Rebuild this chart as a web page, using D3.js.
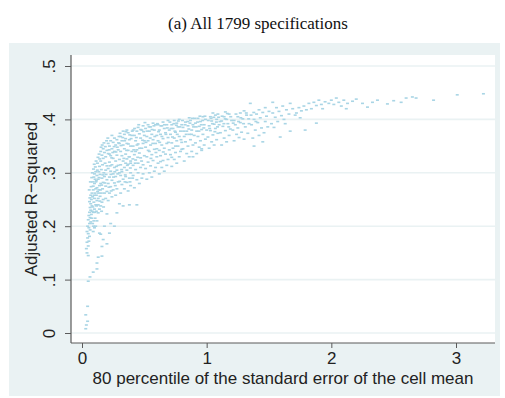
<!DOCTYPE html>
<html>
<head>
<meta charset="utf-8">
<script src="https://cdn.jsdelivr.net/npm/d3@7"></script>
<style>
  body { margin: 0; background: #fff; }
</style>
</head>
<body>
<div id="chart"></div>
<script>
const title = "(a) All 1799 specifications";
const xLabel = "80 percentile of the standard error of the cell mean";
const yLabel = "Adjusted R\u2212squared";
const xTicks = [0, 1, 2, 3];
const yTicks = [0, 0.1, 0.2, 0.3, 0.4, 0.5];

// [x, y] pairs, grouped by region of the cloud
const tailPoints = [[.03,.008],[.035,.015],[.045,.022],[.03,.034],[.045,.05],[.05,.097],[.064,.105],[.09,.114],[.12,.12],[.12,.131],[.16,.144],[.13,.142],[.2,.167],[.16,.162],[.05,.145],[.14,.187],[.17,.175]];
const edgePoints = [[.04,.150],[.035,.158],[.05,.163],[.04,.170],[.055,.172],[.045,.178],[.06,.181],[.05,.186],[.04,.19],[.065,.193],[.055,.197],[.045,.2],[.06,.205],[.07,.208],[.05,.212],[.065,.216],[.055,.22],[.075,.222],[.06,.226],[.07,.23],[.065,.235],[.08,.238],[.07,.242],[.06,.246],[.075,.25],[.085,.255],[.07,.258]];
const bandA = [[.09,.19],[.1,.197],[.11,.2],[.085,.205],[.095,.21],[.105,.215],[.12,.21],[.09,.226],[.1,.232],[.115,.228],[.08,.262],[.09,.268],[.095,.245],[.11,.24],[.1,.252],[.12,.248],[.105,.262],[.115,.258],[.09,.275],[.1,.28],[.11,.27],[.12,.272],[.085,.283],[.105,.288],[.095,.292],[.115,.285],[.12,.295],[.1,.298],[.11,.302],[.125,.265],[.13,.24]];
const lowStrays = [[.18,.2],[.23,.205],[.26,.2],[.2,.223],[.28,.225],[.33,.238],[.38,.24],[.3,.242],[.44,.24],[.22,.187],[.15,.185]];
const bandB = [[.13,.225],[.14,.232],[.15,.238],[.16,.245],[.13,.252],[.145,.256],[.17,.25],[.155,.262],[.135,.268],[.165,.27],[.18,.262],[.14,.276],[.15,.28],[.17,.282],[.19,.275],[.13,.288],[.16,.29],[.18,.293],[.145,.297],[.2,.287],[.135,.302],[.155,.306],[.175,.3],[.19,.305],[.14,.312],[.165,.315],[.185,.318],[.15,.322],[.2,.313],[.17,.327],[.16,.333],[.19,.33],[.18,.338],[.2,.342],[.17,.345],[.15,.34],[.2,.265],[.19,.252]];
const bandC = [[.21,.248],[.24,.255],[.22,.262],[.27,.258],[.25,.268],[.23,.274],[.28,.27],[.21,.28],[.26,.281],[.24,.286],[.29,.283],[.22,.292],[.27,.293],[.25,.298],[.23,.303],[.28,.305],[.21,.308],[.26,.31],[.24,.315],[.29,.314],[.22,.32],[.27,.322],[.25,.327],[.23,.332],[.28,.333],[.21,.336],[.26,.34],[.24,.345],[.29,.343],[.22,.35],[.27,.352],[.25,.357],[.23,.36],[.28,.362],[.3,.355],[.26,.365],[.24,.37],[.21,.355],[.3,.3],[.22,.335]];
const bandD = [[.31,.262],[.34,.27],[.37,.266],[.32,.278],[.36,.282],[.39,.276],[.33,.288],[.31,.295],[.35,.293],[.38,.29],[.32,.302],[.36,.305],[.39,.3],[.34,.31],[.31,.315],[.37,.316],[.33,.322],[.36,.326],[.39,.322],[.32,.332],[.35,.335],[.38,.33],[.31,.34],[.34,.345],[.37,.342],[.4,.34],[.33,.352],[.36,.355],[.39,.35],[.32,.36],[.35,.364],[.38,.362],[.31,.368],[.34,.372],[.37,.375],[.4,.37],[.36,.38],[.33,.378],[.39,.318],[.35,.318],[.3,.325]];
const bandE = [[.42,.272],[.46,.28],[.44,.287],[.48,.29],[.41,.295],[.45,.3],[.49,.298],[.43,.306],[.47,.31],[.41,.314],[.45,.318],[.49,.315],[.43,.324],[.47,.328],[.42,.334],[.46,.337],[.5,.332],[.44,.343],[.48,.346],[.41,.35],[.45,.354],[.49,.355],[.43,.36],[.47,.365],[.42,.37],[.46,.373],[.5,.37],[.44,.378],[.48,.38],[.45,.385],[.41,.38],[.49,.388],[.43,.34],[.5,.36]];
const bandF = [[.52,.288],[.56,.292],[.54,.3],[.58,.303],[.51,.308],[.55,.313],[.59,.31],[.53,.32],[.57,.323],[.52,.33],[.56,.334],[.6,.33],[.54,.34],[.58,.344],[.51,.348],[.55,.352],[.59,.355],[.53,.36],[.57,.362],[.52,.368],[.56,.372],[.6,.37],[.54,.378],[.58,.38],[.51,.383],[.55,.386],[.59,.39],[.57,.393],[.53,.39],[.6,.345]];
const bandG = [[.62,.298],[.66,.303],[.64,.31],[.68,.314],[.61,.318],[.65,.323],[.69,.325],[.63,.332],[.67,.335],[.62,.342],[.66,.346],[.7,.343],[.64,.352],[.68,.355],[.61,.36],[.65,.364],[.69,.366],[.63,.372],[.67,.375],[.62,.38],[.66,.383],[.7,.38],[.64,.388],[.68,.39],[.65,.395],[.69,.398],[.61,.39]];
const bandH = [[.72,.312],[.76,.318],[.74,.325],[.78,.33],[.71,.334],[.75,.338],[.79,.34],[.73,.346],[.77,.35],[.72,.356],[.76,.36],[.8,.357],[.74,.365],[.78,.368],[.71,.372],[.75,.376],[.79,.378],[.73,.383],[.77,.386],[.72,.39],[.76,.393],[.8,.39],[.74,.398],[.78,.4],[.75,.35]];
const bandI = [[.82,.322],[.86,.33],[.84,.336],[.88,.34],[.81,.345],[.85,.35],[.89,.352],[.83,.358],[.87,.362],[.82,.368],[.86,.372],[.9,.37],[.84,.378],[.88,.38],[.81,.385],[.85,.388],[.89,.39],[.83,.395],[.87,.398],[.86,.403],[.89,.33]];
const bandJ = [[.92,.336],[.96,.342],[.94,.348],[.98,.352],[.91,.356],[.95,.36],[.99,.363],[.93,.368],[.97,.372],[.92,.378],[.96,.381],[1.0,.38],[.94,.387],[.98,.39],[.91,.393],[.95,.396],[.99,.4],[.93,.402],[.97,.405],[.96,.345]];
const bandK = [[1.02,.346],[1.06,.352],[1.04,.358],[1.08,.362],[1.01,.367],[1.05,.371],[1.09,.374],[1.03,.379],[1.07,.383],[1.02,.388],[1.06,.391],[1.1,.39],[1.04,.397],[1.08,.4],[1.03,.405],[1.07,.408],[1.05,.412],[1.09,.41],
  [1.12,.352],[1.16,.358],[1.14,.365],[1.18,.37],[1.11,.375],[1.15,.379],[1.19,.382],[1.13,.387],[1.17,.392],[1.12,.397],[1.16,.4],[1.2,.398],[1.14,.405],[1.18,.41],[1.15,.414]];
const bandL = [[1.22,.36],[1.26,.366],[1.3,.363],[1.24,.372],[1.28,.376],[1.33,.374],[1.21,.38],[1.25,.384],[1.31,.386],[1.23,.39],[1.27,.394],[1.34,.392],[1.22,.398],[1.29,.401],[1.25,.405],[1.32,.408],[1.27,.412],[1.3,.416],[1.35,.43],
  [1.37,.365],[1.42,.37],[1.46,.375],[1.39,.38],[1.44,.384],[1.49,.386],[1.36,.39],[1.41,.394],[1.47,.396],[1.38,.4],[1.43,.403],[1.48,.406],[1.4,.41],[1.45,.413],[1.5,.415],[1.42,.418],[1.47,.422],[1.38,.35],[1.45,.358]];
const bandM = [[1.52,.392],[1.57,.396],[1.62,.4],[1.55,.404],[1.6,.407],[1.66,.41],[1.53,.412],[1.58,.415],[1.64,.418],[1.69,.42],[1.56,.422],[1.61,.425],[1.53,.432],[1.67,.43],[1.59,.367],[1.67,.378],[1.54,.385],[1.63,.392],
  [1.72,.412],[1.76,.416],[1.8,.418],[1.74,.422],[1.78,.425],[1.84,.42],[1.88,.426],[1.82,.43],[1.86,.432],[1.92,.428],[1.95,.433],[1.9,.436],[1.98,.43],[1.75,.403],[1.79,.38],[1.88,.393],[1.71,.408],[1.93,.42],[2.0,.436]];
const rightTail = [[2.02,.428],[2.06,.432],[2.1,.436],[2.04,.44],[2.13,.43],[2.17,.434],[2.2,.438],[2.25,.43],[2.29,.423],[2.33,.432],[2.37,.436],[2.12,.42],[2.08,.425],
  [2.45,.429],[2.5,.435],[2.56,.432],[2.6,.44],[2.65,.442],[2.68,.44],[2.82,.436],[3.01,.446],[3.22,.448]];
// extra points in the densest parts of the cloud
const fillLeft = [[.058,.268],[.067,.283],[.073,.274],[.078,.291],[.083,.3],[.092,.307],[.098,.316],[.107,.311],[.113,.322],[.124,.318],[.128,.329],[.137,.335],[.142,.326],[.153,.348],[.162,.352],[.176,.356],[.187,.349],[.197,.36],[.063,.253],[.087,.236],[.103,.226],[.117,.238],[.133,.262],[.148,.268],[.158,.277],[.168,.296],[.183,.281],[.193,.297],[.137,.291],[.123,.305],[.111,.283],[.097,.258],[.077,.215],[.082,.228],[.093,.2],[.143,.247],[.173,.236],[.157,.228]];
const fillMid = [[.207,.365],[.218,.343],[.226,.313],[.232,.297],[.238,.328],[.247,.338],[.253,.292],[.258,.349],[.263,.302],[.272,.339],[.276,.312],[.283,.348],[.287,.298],[.293,.356],[.297,.368],[.305,.374],[.313,.351],[.318,.306],[.327,.366],[.336,.327],[.342,.36],[.347,.296],[.353,.377],[.358,.342],[.364,.314],[.372,.354],[.377,.33],[.383,.371],[.388,.309],[.394,.364],[.403,.378],[.408,.326],[.415,.343],[.422,.383],[.427,.318],[.436,.366],[.441,.352],[.447,.329],[.216,.273],[.234,.266],[.267,.276],[.302,.284],[.345,.283],[.385,.283],[.406,.29]];
const fillUpper = [[.455,.39],[.462,.346],[.471,.381],[.478,.322],[.486,.361],[.494,.377],[.505,.394],[.513,.357],[.522,.378],[.531,.342],[.538,.386],[.547,.365],[.553,.327],[.562,.381],[.568,.355],[.577,.388],[.584,.368],[.593,.338],[.605,.392],[.614,.377],[.623,.357],[.632,.388],[.641,.368],[.652,.339],[.661,.39],[.673,.372],[.684,.384],[.693,.357],[.705,.395],[.714,.383],[.726,.367],[.737,.392],[.745,.378],[.757,.389],[.764,.372],[.773,.397],[.785,.386],[.794,.362],[.806,.398],[.815,.378],[.827,.39],[.836,.372],[.848,.396],[.857,.382],[.866,.393],[.878,.372],[.886,.402],[.895,.386],[.63,.321],[.72,.329],[.8,.344]];
const fillRight = [[.905,.402],[.916,.386],[.927,.395],[.938,.378],[.946,.406],[.957,.39],[.968,.398],[.977,.384],[.986,.406],[1.013,.398],[1.024,.383],[1.035,.402],[1.046,.392],[1.057,.404],[1.066,.377],[1.078,.395],[1.087,.386],[1.096,.404],[1.107,.396],[1.124,.406],[1.138,.392],[1.149,.401],[1.166,.411],[1.177,.386],[1.193,.405],[1.213,.393],[1.235,.41],[1.256,.396],[1.274,.403],[1.296,.392],[1.318,.412],[1.337,.401],[1.356,.408],[1.378,.413],[1.395,.396]];

const points = [].concat(tailPoints, edgePoints, bandA, lowStrays, bandB, bandC, bandD, bandE,
  bandF, bandG, bandH, bandI, bandJ, bandK, bandL, bandM, rightTail,
  fillLeft, fillMid, fillUpper, fillRight);

const width = 505, height = 398;
const plot = { left: 71, right: 495, top: 55, bottom: 343 };
const bg = "#eaf2f3", axisColor = "#5a5a5a", markerColor = "#a9d5e5";

const svg = d3.select("#chart")
  .append("svg")
  .attr("width", width)
  .attr("height", height)
  .style("font-family", "'Liberation Sans', Arial, sans-serif");

// graph region and plot region
svg.append("rect").attr("x", 9).attr("y", 43).attr("width", 491).attr("height", 353).attr("fill", bg);
svg.append("rect").attr("x", plot.left).attr("y", plot.top)
  .attr("width", plot.right - plot.left).attr("height", plot.bottom - plot.top).attr("fill", "#fff");

const x = d3.scaleLinear().domain([0, 3]).range([82, 456]);
const y = d3.scaleLinear().domain([0, 0.5]).range([333, 66]);

// grid
svg.append("g")
  .selectAll("line")
  .data(yTicks)
  .join("line")
  .attr("x1", plot.left)
  .attr("x2", plot.right)
  .attr("y1", d => y(d))
  .attr("y2", d => y(d))
  .attr("stroke", bg)
  .attr("stroke-width", 1.6);

svg.append("g")
  .selectAll("rect")
  .data(points)
  .join("rect")
  .attr("x", d => x(d[0]) - 1.5)
  .attr("y", d => y(d[1]) - 0.8)
  .attr("width", 3)
  .attr("height", 1.6)
  .attr("fill", markerColor);

// X axis
const xAxis = svg.append("g")
  .attr("transform", `translate(0,${plot.bottom})`)
  .call(d3.axisBottom(x).tickValues(xTicks).tickSize(5).tickPadding(4).tickFormat(d3.format("d")));
xAxis.select(".domain").remove();
xAxis.selectAll("line").attr("stroke", axisColor);
xAxis.selectAll("text").attr("font-size", 17).attr("fill", "#222").attr("font-family", null);
xAxis.append("line")
  .attr("x1", plot.left).attr("x2", plot.right)
  .attr("stroke", axisColor).attr("stroke-width", 1.2);

// Y axis
const yAxis = svg.append("g")
  .attr("transform", `translate(${plot.left},0)`)
  .call(d3.axisLeft(y).tickValues(yTicks).tickSize(6)
    .tickFormat(d => d === 0 ? "0" : d3.format(".1f")(d).replace(/^0/, "")));
yAxis.select(".domain").remove();
yAxis.selectAll("line").attr("stroke", axisColor);
yAxis.selectAll("text")
  .attr("transform", "rotate(-90)")
  .attr("x", 0)
  .attr("y", -16)
  .attr("dy", 0)
  .attr("text-anchor", "middle")
  .attr("font-size", 17)
  .attr("fill", "#222")
  .attr("font-family", null);
yAxis.append("line")
  .attr("y1", plot.top).attr("y2", plot.bottom)
  .attr("stroke", axisColor).attr("stroke-width", 1.2);

// titles
svg.append("text")
  .attr("x", 258)
  .attr("y", 29)
  .attr("text-anchor", "middle")
  .attr("font-family", "'Liberation Serif', 'Times New Roman', serif")
  .attr("font-size", 17)
  .attr("fill", "#111")
  .text(title);

svg.append("text")
  .attr("x", 283)
  .attr("y", 384)
  .attr("text-anchor", "middle")
  .attr("font-size", 17)
  .attr("fill", "#222")
  .text(xLabel);

svg.append("text")
  .attr("transform", "translate(37,199) rotate(-90)")
  .attr("text-anchor", "middle")
  .attr("font-size", 17)
  .attr("fill", "#222")
  .text(yLabel);
</script>
</body>
</html>
